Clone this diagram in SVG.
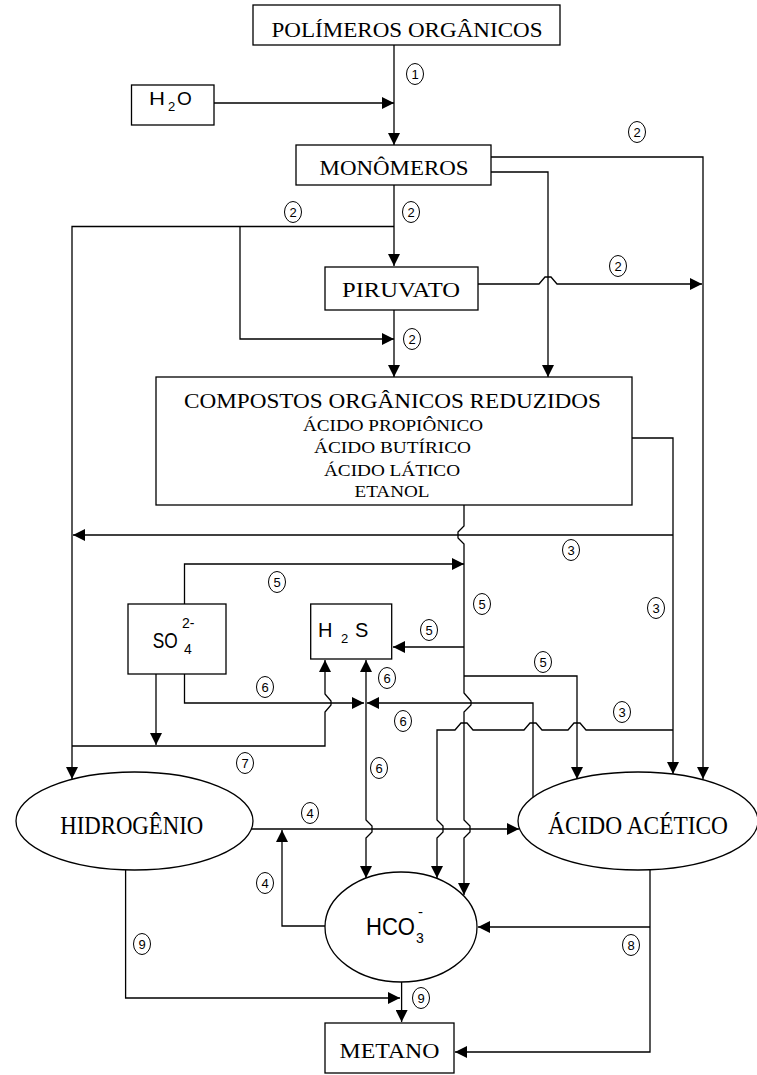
<svg xmlns="http://www.w3.org/2000/svg" width="757" height="1075" viewBox="0 0 757 1075">
<style>
.bx{fill:#fff;stroke:#000;stroke-width:1.3}
.ln{fill:none;stroke:#000;stroke-width:1.3;marker-end:url(#ah)}
.sf{font-family:"Liberation Serif","Times New Roman",serif;fill:#000;text-anchor:middle}
.ss{font-family:"Liberation Sans",Arial,sans-serif;fill:#000}
.cn ellipse{fill:#fff;stroke:#000;stroke-width:1}
.cn text{font-family:"Liberation Sans",Arial,sans-serif;font-size:13px;text-anchor:middle;fill:#000}
</style>
<defs>
<marker id="ah" viewBox="0 0 12 12" refX="12" refY="6" markerWidth="12" markerHeight="12" markerUnits="userSpaceOnUse" orient="auto-start-reverse"><path d="M0,0 L12,6 L0,12 z" fill="#000"/></marker>
</defs>
<rect width="757" height="1075" fill="#fff"/>
<g id="connectors">
<path class="ln" d="M394,45 V145"/>
<path class="ln" d="M214,103 H394"/>
<path class="ln" d="M491,157 H703 V779"/>
<path class="ln" d="M491,172 H548 V377"/>
<path class="ln" d="M394,185 V266"/>
<path class="ln" d="M394,226.5 H72 V779"/>
<path class="ln" d="M240,226.5 V339 H394"/>
<path class="ln" d="M478,284 H539 L545,277 H551 L557,284 H702"/>
<path class="ln" d="M394,310 V377"/>
<path class="ln" d="M632,438 H673 V774"/>
<path class="ln" d="M673,535 H73"/>
<path class="ln" d="M464,505 V526 L458,532 V538 L464,544 V693 L471,701 V705 L464,712 V820 L470,826 V832 L464,838 V895"/>
<path class="ln" d="M184.5,604 V564 H464"/>
<path class="ln" d="M464,647 H393"/>
<path class="ln" d="M464,676 H577 V779"/>
<path class="ln" d="M184.5,674 V703 H364"/>
<path class="ln" d="M156,674 V745"/>
<path class="ln" d="M72,746 H325 V712 L331,705 V701 L325,694 V660"/>
<path class="ln" d="M533,797 V703 H367"/>
<path class="ln" d="M366,660 V820 L372,826 V832 L366,838 V878" marker-start="url(#ah)"/>
<path class="ln" d="M673,730 H586 L580,723 H574 L568,730 H542 L536,723 H530 L524,730 H473 L467,723 H461 L455,730 H437 V820 L443,826 V832 L437,838 V878"/>
<path class="ln" d="M251,829 H519"/>
<path class="ln" d="M325,926 H282 V830"/>
<path class="ln" d="M650,870 V1052 H455"/>
<path class="ln" d="M650,927 H478"/>
<path class="ln" d="M125.6,870 V998 H400"/>
<path class="ln" d="M401.6,982 V1022"/>
</g>
<g id="polimeros"><rect class="bx" x="253" y="5" width="307" height="40"/><text class="sf" x="407" y="37" font-size="21" textLength="271" lengthAdjust="spacingAndGlyphs">POLÍMEROS ORGÂNICOS</text></g>
<g id="h2o"><rect class="bx" x="131.5" y="85" width="82.5" height="40"/><text class="ss" x="149" y="105" font-size="19" textLength="16" lengthAdjust="spacingAndGlyphs">H</text><text class="ss" x="168" y="111" font-size="13">2</text><text class="ss" x="177" y="105" font-size="19">O</text></g>
<g id="monomeros"><rect class="bx" x="296" y="145" width="195" height="40"/><text class="sf" x="394" y="175" font-size="20" textLength="149" lengthAdjust="spacingAndGlyphs">MONÔMEROS</text></g>
<g id="piruvato"><rect class="bx" x="325" y="267" width="153" height="43"/><text class="sf" x="401" y="297" font-size="21" textLength="118" lengthAdjust="spacingAndGlyphs">PIRUVATO</text></g>
<g id="compostos"><rect class="bx" x="156" y="377" width="476" height="128"/>
<text class="sf" x="392.5" y="408" font-size="20" textLength="417" lengthAdjust="spacingAndGlyphs">COMPOSTOS ORGÂNICOS REDUZIDOS</text>
<text class="sf" x="393" y="430.5" font-size="17" textLength="180" lengthAdjust="spacingAndGlyphs">ÁCIDO PROPIÔNICO</text>
<text class="sf" x="392.5" y="453" font-size="17" textLength="157" lengthAdjust="spacingAndGlyphs">ÁCIDO BUTÍRICO</text>
<text class="sf" x="392" y="475.5" font-size="17" textLength="136" lengthAdjust="spacingAndGlyphs">ÁCIDO LÁTICO</text>
<text class="sf" x="392" y="497" font-size="17" textLength="75" lengthAdjust="spacingAndGlyphs">ETANOL</text></g>
<g id="so4"><rect class="bx" x="128" y="604" width="98" height="70"/><text class="ss" x="152.7" y="648" font-size="22" textLength="25" lengthAdjust="spacingAndGlyphs">SO</text><text class="ss" x="182" y="628" font-size="14">2-</text><text class="ss" x="184" y="654" font-size="14">4</text></g>
<g id="h2s"><rect class="bx" x="310.7" y="604" width="81" height="55"/><text class="ss" x="318" y="637" font-size="20">H</text><text class="ss" x="341" y="643" font-size="13">2</text><text class="ss" x="355" y="637" font-size="20">S</text></g>
<g id="hidrogenio"><ellipse class="bx" cx="134.5" cy="821" rx="118.5" ry="49"/><text class="sf" x="131.7" y="834" font-size="25" textLength="143" lengthAdjust="spacingAndGlyphs">HIDROGÊNIO</text></g>
<g id="acido-acetico"><ellipse class="bx" cx="638" cy="821" rx="120" ry="49"/><text class="sf" x="638" y="834" font-size="25" textLength="180" lengthAdjust="spacingAndGlyphs">ÁCIDO ACÉTICO</text></g>
<g id="hco3"><ellipse class="bx" cx="401" cy="927" rx="76" ry="55"/><text class="ss" x="366" y="935" font-size="23" textLength="49" lengthAdjust="spacingAndGlyphs">HCO</text><text class="ss" x="416" y="943" font-size="14">3</text><text class="ss" x="418" y="917" font-size="15">-</text></g>
<g id="metano"><rect class="bx" x="325" y="1023" width="129" height="50"/><text class="sf" x="389.5" y="1058" font-size="22" textLength="100" lengthAdjust="spacingAndGlyphs">METANO</text></g>
<g id="labels" class="cn">
<g><ellipse cx="415" cy="74" rx="8.5" ry="10.5"/><text x="415" y="78.5">1</text></g>
<g><ellipse cx="637" cy="132" rx="8.5" ry="10.5"/><text x="637" y="136.5">2</text></g>
<g><ellipse cx="293" cy="212" rx="8.5" ry="10.5"/><text x="293" y="216.5">2</text></g>
<g><ellipse cx="411" cy="212" rx="8.5" ry="10.5"/><text x="411" y="216.5">2</text></g>
<g><ellipse cx="618" cy="266" rx="8.5" ry="10.5"/><text x="618" y="270.5">2</text></g>
<g><ellipse cx="412" cy="339" rx="8.5" ry="10.5"/><text x="412" y="343.5">2</text></g>
<g><ellipse cx="571" cy="550" rx="8.5" ry="10.5"/><text x="571" y="554.5">3</text></g>
<g><ellipse cx="277" cy="582" rx="8.5" ry="10.5"/><text x="277" y="586.5">5</text></g>
<g><ellipse cx="482" cy="604" rx="8.5" ry="10.5"/><text x="482" y="608.5">5</text></g>
<g><ellipse cx="656" cy="608" rx="8.5" ry="10.5"/><text x="656" y="612.5">3</text></g>
<g><ellipse cx="429" cy="630" rx="8.5" ry="10.5"/><text x="429" y="634.5">5</text></g>
<g><ellipse cx="543" cy="662" rx="8.5" ry="10.5"/><text x="543" y="666.5">5</text></g>
<g><ellipse cx="387" cy="678" rx="8.5" ry="10.5"/><text x="387" y="682.5">6</text></g>
<g><ellipse cx="265" cy="687" rx="8.5" ry="10.5"/><text x="265" y="691.5">6</text></g>
<g><ellipse cx="403" cy="721" rx="8.5" ry="10.5"/><text x="403" y="725.5">6</text></g>
<g><ellipse cx="622" cy="712" rx="8.5" ry="10.5"/><text x="622" y="716.5">3</text></g>
<g><ellipse cx="245" cy="763" rx="8.5" ry="10.5"/><text x="245" y="767.5">7</text></g>
<g><ellipse cx="379" cy="768" rx="8.5" ry="10.5"/><text x="379" y="772.5">6</text></g>
<g><ellipse cx="310" cy="813" rx="8.5" ry="10.5"/><text x="310" y="817.5">4</text></g>
<g><ellipse cx="265" cy="883" rx="8.5" ry="10.5"/><text x="265" y="887.5">4</text></g>
<g><ellipse cx="142" cy="944" rx="8.5" ry="10.5"/><text x="142" y="948.5">9</text></g>
<g><ellipse cx="631" cy="945" rx="8.5" ry="10.5"/><text x="631" y="949.5">8</text></g>
<g><ellipse cx="421" cy="998" rx="8.5" ry="10.5"/><text x="421" y="1002.5">9</text></g>
</g>
</svg>
